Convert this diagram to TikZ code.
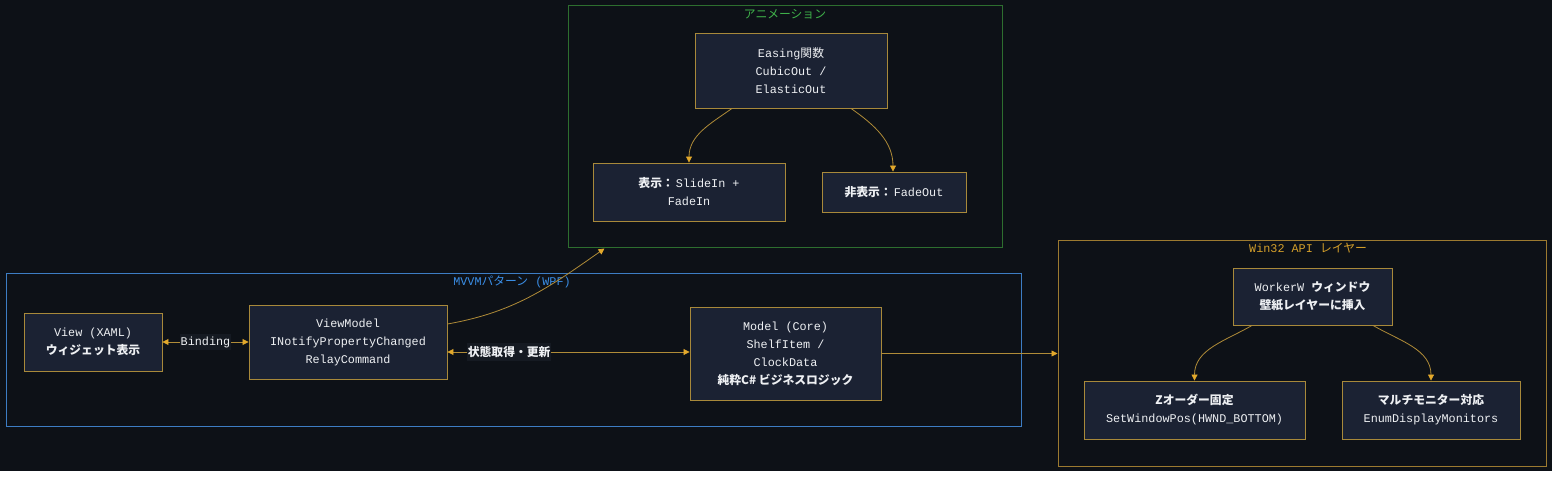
\documentclass[tikz,border=0pt]{standalone}
\usepackage{fontspec}
\setmainfont{Liberation Mono}
\newfontfamily\jp{Noto Sans CJK JP}
\usetikzlibrary{arrows.meta,calc}
\definecolor{bgc}{HTML}{0D1117}
\definecolor{boxfill}{HTML}{1B2233}
\definecolor{boxline}{HTML}{A8893A}
\definecolor{edgec}{HTML}{B08C38}
\definecolor{tipc}{HTML}{E3A92B}
\definecolor{txt}{HTML}{EEF0F3}
\definecolor{animline}{HTML}{2D6E2F}
\definecolor{animtxt}{HTML}{3FB24A}
\definecolor{mvvmline}{HTML}{3D7DC4}
\definecolor{mvvmtxt}{HTML}{3A8EE6}
\definecolor{wline}{HTML}{9C7A30}
\definecolor{wtxt}{HTML}{D49F2A}
\definecolor{lblbg}{HTML}{151A22}
\newcommand{\jb}[1]{{\jp\bfseries #1}}
\tikzset{
  x=1pt,y=-1pt,
  base/.style={font=\fontsize{11.8}{18}\selectfont, text=txt, align=center, inner sep=0pt},
  stepbox/.style={base, draw=boxline, fill=boxfill, line width=0.9pt},
  cluster/.style={draw, line width=1pt, fill=none, inner sep=0pt},
  ctitle/.style={font=\fontsize{11.8}{14}\selectfont, inner sep=0pt},
  arr/.style={draw=edgec, line width=0.8pt, -{Triangle[length=6pt,width=6pt,color=tipc]}},
  darr/.style={draw=edgec, line width=0.8pt, {Triangle[length=6pt,width=6pt,color=tipc]}-{Triangle[length=6pt,width=6pt,color=tipc]}},
  elabel/.style={base, fill=lblbg, inner xsep=1pt, inner ysep=3pt}
}
\begin{document}
\begin{tikzpicture}
\useasboundingbox (0,0) rectangle (1568,478);
\fill[white] (0,0) rectangle (1568,478);
\fill[bgc] (0,0) rectangle (1552,471);

% clusters
\node[cluster, draw=animline, minimum width=434pt, minimum height=242pt] (anim) at (785,127) {};
\node[ctitle, text=animtxt] (animt) at (785,14) {\jp アニメーション};
\node[cluster, draw=mvvmline, minimum width=1015pt, minimum height=152pt] (mvvm) at (513.5,350) {};
\node[ctitle, text=mvvmtxt] (mvvmt) at (512,282) {MVVM{\jp パターン} (WPF)};
\node[cluster, draw=wline, minimum width=488pt, minimum height=225pt] (w32) at (1302,353.5) {};
\node[ctitle, text=wtxt] (w32t) at (1308,248) {Win32 API {\jp レイヤー}};

% nodes
\node[stepbox, minimum width=192pt, minimum height=75pt] (easing) at (791,70.5) {Easing{\jp 関数}\\CubicOut /\\ElasticOut};
\node[stepbox, minimum width=192pt, minimum height=58pt] (show) at (689,192) {\jb{表示：}\,SlideIn +\\FadeIn};
\node[stepbox, minimum width=144pt, minimum height=40pt] (hide) at (894,192) {\jb{非表示：}\,FadeOut};
\node[stepbox, minimum width=138pt, minimum height=58pt] (view) at (93,342) {View (XAML)\\\jb{ウィジェット表示}};
\node[stepbox, minimum width=198pt, minimum height=74pt] (vm) at (348,342) {ViewModel\\INotifyPropertyChanged\\RelayCommand};
\node[stepbox, minimum width=191pt, minimum height=93pt] (model) at (785.5,353.5) {Model (Core)\\ShelfItem /\\ClockData\\\jb{純粋C\# ビジネスロジック}};
\node[stepbox, minimum width=159pt, minimum height=57pt] (worker) at (1312.5,296.5) {WorkerW \jb{ウィンドウ}\\\jb{壁紙レイヤーに挿入}};
\node[stepbox, minimum width=221pt, minimum height=58pt] (zorder) at (1194.5,410) {\jb{Zオーダー固定}\\SetWindowPos(HWND\_BOTTOM)};
\node[stepbox, minimum width=178pt, minimum height=58pt] (multi) at (1431,410) {\jb{マルチモニター対応}\\EnumDisplayMonitors};

% edges
\draw[arr] ($(easing.south)+(-59,0)$) to[out=-145,in=90] (show.north);
\draw[arr] ($(easing.south)+(60,0)$) to[out=-35,in=90] ($(hide.north)+(-1,0)$);
\draw[arr] ($(worker.south)+(-60.5,0)$) to[out=-150,in=90] (zorder.north);
\draw[arr] ($(worker.south)+(60.5,0)$) to[out=-30,in=90] (multi.north);
\draw[darr] (view.east) -- node[elabel, pos=0.5] (bindl) {Binding} (vm.west);
\coordinate (vmr) at ($(vm.east)+(0,10)$);
\draw[darr] (vmr) -- node[elabel, pos=0.255] (statel) {\jb{状態取得・更新}} (vmr -| model.west);
\draw[arr] ($(vm.east)+(0,-18)$) to[out=10,in=-145] ($(anim.south west)+(37,0)$);
\draw[arr] (model.east) -- (model.east -| w32.west);
\end{tikzpicture}
\end{document}
